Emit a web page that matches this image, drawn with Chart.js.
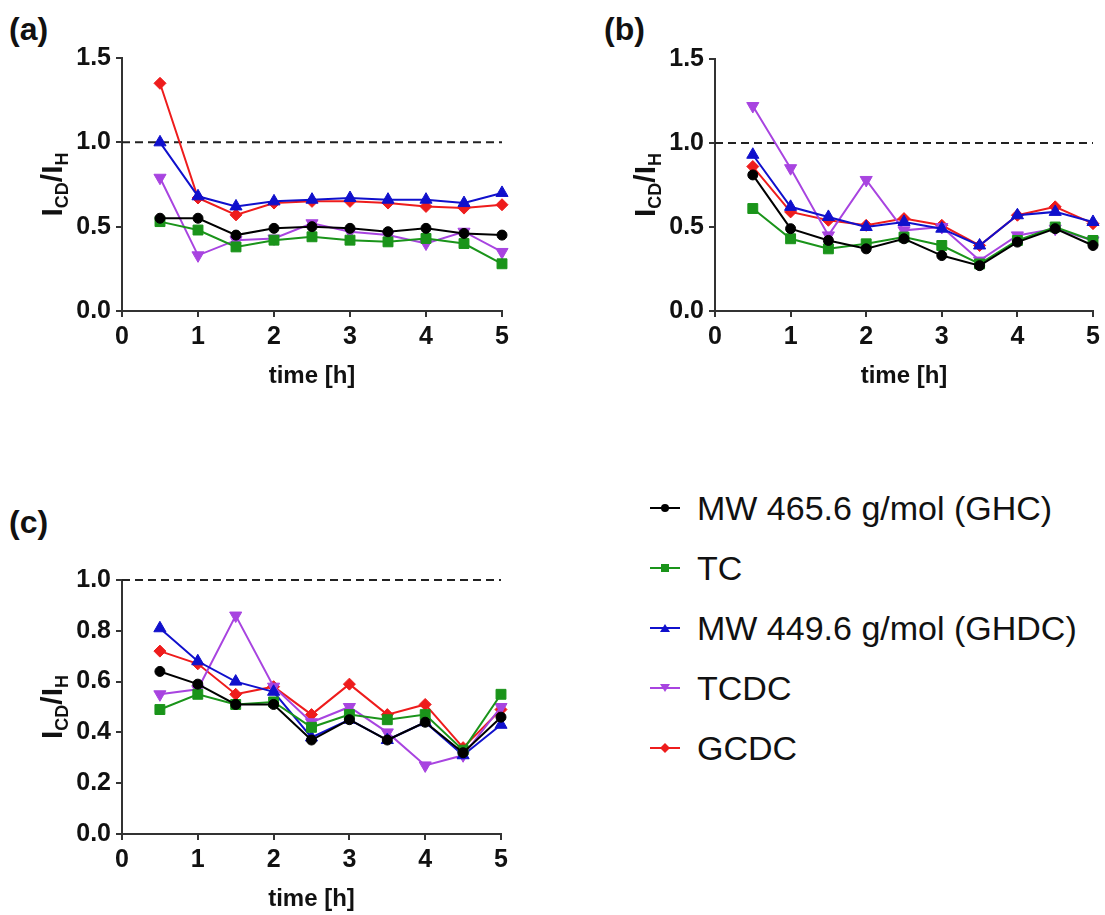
<!DOCTYPE html>
<html>
<head>
<meta charset="utf-8">
<script src="https://cdn.jsdelivr.net/npm/chart.js@4.4.1/dist/chart.umd.min.js"></script>
<style>
  body { margin: 0; background: #fff; font-family: Arial, "Liberation Sans", Helvetica, sans-serif; }
  #page { position: relative; width: 1105px; height: 915px; overflow: hidden; }
  canvas { position: absolute; }
  .tag { position: absolute; font-weight: bold; font-size: 32px; line-height: 36px; color: #111; }
  #legend { position: absolute; left: 650px; top: 478px; }
  .item { height: 60px; display: flex; align-items: center; font-size: 34px; color: #111; white-space: nowrap; }
  .item svg { margin-right: 17px; }
</style>
</head>
<body>
<div id="page">
  <div class="tag" style="left:9px; top:11px">(a)</div>
  <div class="tag" style="left:604px; top:11px">(b)</div>
  <div class="tag" style="left:9px; top:504px">(c)</div>
  <canvas id="chartA" width="540" height="391" style="left:0; top:0"></canvas>
  <canvas id="chartB" width="512" height="391" style="left:593px; top:0"></canvas>
  <canvas id="chartC" width="540" height="414" style="left:0; top:500px"></canvas>
  <div id="legend"></div>
</div>
<script>
const FONT = 'Arial, "Liberation Sans", Helvetica, sans-serif';

// sampling times [h]
const times = [0.5, 1, 1.5, 2, 2.5, 3, 3.5, 4, 4.5, 5];
const names = ['MW 465.6 g/mol (GHC)', 'TC', 'MW 449.6 g/mol (GHDC)', 'TCDC', 'GCDC'];

// panel (a)
const ghcA  = [0.55, 0.55, 0.45, 0.49, 0.50, 0.49, 0.47, 0.49, 0.46, 0.45];
const tcA   = [0.53, 0.48, 0.38, 0.42, 0.44, 0.42, 0.41, 0.43, 0.40, 0.28];
const ghdcA = [1.00, 0.68, 0.62, 0.65, 0.66, 0.67, 0.66, 0.66, 0.64, 0.70];
const tcdcA = [0.79, 0.33, 0.42, 0.43, 0.52, 0.47, 0.45, 0.40, 0.47, 0.35];
const gcdcA = [1.35, 0.67, 0.57, 0.64, 0.65, 0.65, 0.64, 0.62, 0.61, 0.63];

// panel (b)
const ghcB  = [0.81, 0.49, 0.42, 0.37, 0.43, 0.33, 0.27, 0.41, 0.49, 0.39];
const tcB   = [0.61, 0.43, 0.37, 0.40, 0.44, 0.39, 0.28, 0.42, 0.50, 0.42];
const ghdcB = [0.93, 0.62, 0.56, 0.50, 0.53, 0.49, 0.39, 0.57, 0.59, 0.53];
const tcdcB = [1.22, 0.85, 0.45, 0.78, 0.48, 0.50, 0.30, 0.45, 0.49, 0.42];
const gcdcB = [0.86, 0.59, 0.54, 0.51, 0.55, 0.51, 0.39, 0.57, 0.62, 0.52];

// panel (c)
const ghcC  = [0.64, 0.59, 0.51, 0.51, 0.37, 0.45, 0.37, 0.44, 0.32, 0.46];
const tcC   = [0.49, 0.55, 0.51, 0.52, 0.42, 0.47, 0.45, 0.47, 0.33, 0.55];
const ghdcC = [0.81, 0.68, 0.60, 0.56, 0.38, 0.45, 0.37, 0.44, 0.31, 0.43];
const tcdcC = [0.55, 0.57, 0.86, 0.58, 0.44, 0.50, 0.40, 0.27, 0.31, 0.50];
const gcdcC = [0.72, 0.67, 0.55, 0.58, 0.47, 0.59, 0.47, 0.51, 0.34, 0.49];

const xTicks = [0, 1, 2, 3, 4, 5];
const refLevel = 1.0;

// marker style per series
const styles = [
  { color: '#000000', point: 'circle',   radius: 5, rot: 0 },
  { color: '#1a941a', point: 'rect',     radius: 7, rot: 0 },
  { color: '#1010cc', point: 'triangle', radius: 7, rot: 0 },
  { color: '#a844e0', point: 'triangle', radius: 7, rot: 180 },
  { color: '#ee1c1c', point: 'rectRot',  radius: 6, rot: 0 }
];

// I_CD / I_H axis title with subscripts
const yTitlePlugin = {
  id: 'yTitle',
  afterDraw(chart) {
    const { ctx, chartArea } = chart;
    const cy = (chartArea.top + chartArea.bottom) / 2;
    const cx = chartArea.left - 69;
    const parts = [['I', 30, 0], ['CD', 18, 6], ['/I', 30, 0], ['H', 18, 6]];
    ctx.save();
    ctx.translate(cx + 9, cy);
    ctx.rotate(-Math.PI / 2);
    let total = 0;
    parts.forEach(p => { ctx.font = 'bold ' + p[1] + 'px ' + FONT; total += ctx.measureText(p[0]).width; });
    let x = -total / 2;
    ctx.fillStyle = '#111';
    ctx.textBaseline = 'alphabetic';
    parts.forEach(p => {
      ctx.font = 'bold ' + p[1] + 'px ' + FONT;
      ctx.fillText(p[0], x, p[2]);
      x += ctx.measureText(p[0]).width;
    });
    ctx.restore();
  }
};

const makePanel = (id, series, yMax, yStep, padTop, padRight) => {
  const datasets = series.map((vals, i) => ({
    label: names[i],
    data: times.map((t, j) => ({ x: t, y: vals[j] })),
    borderColor: styles[i].color,
    backgroundColor: styles[i].color,
    borderWidth: 2,
    pointStyle: styles[i].point,
    pointRadius: styles[i].radius,
    pointRotation: styles[i].rot,
    pointBorderWidth: 1,
    clip: false
  }));
  // dashed line at ratio 1
  datasets.push({
    label: 'ref',
    data: [{ x: xTicks[0], y: refLevel }, { x: xTicks[xTicks.length - 1], y: refLevel }],
    borderColor: '#222',
    borderWidth: 2,
    borderDash: [8, 5],
    pointRadius: 0,
    clip: false
  });

  new Chart(document.getElementById(id), {
    type: 'line',
    data: { datasets },
    plugins: [yTitlePlugin],
    options: {
      responsive: false,
      animation: false,
      events: [],
      layout: { padding: { top: padTop, right: padRight, bottom: 0, left: 0 } },
      plugins: { legend: { display: false }, tooltip: { enabled: false } },
      scales: {
        x: {
          type: 'linear',
          min: 0, max: 5,
          afterBuildTicks: s => { s.ticks = xTicks.map(v => ({ value: v })); },
          ticks: { color: '#111', font: { family: FONT, size: 25, weight: 'bold' }, padding: 5 },
          grid: { drawOnChartArea: false, tickLength: 6, color: '#333', lineWidth: 2 },
          border: { color: '#333', width: 2 },
          title: { display: true, text: 'time [h]', color: '#111', font: { family: FONT, size: 24, weight: 'bold' }, padding: 0 },
          afterFit: s => { s.height = 80; }
        },
        y: {
          min: 0, max: yMax,
          ticks: { stepSize: yStep, callback: v => v.toFixed(1), color: '#111', font: { family: FONT, size: 25, weight: 'bold' }, padding: 5 },
          grid: { drawOnChartArea: false, tickLength: 6, color: '#333', lineWidth: 2 },
          border: { color: '#333', width: 2 },
          afterFit: s => { s.width = 122; }
        }
      }
    }
  });
};

makePanel('chartA', [ghcA, tcA, ghdcA, tcdcA, gcdcA], 1.5, 0.5, 58, 38);
makePanel('chartB', [ghcB, tcB, ghdcB, tcdcB, gcdcB], 1.5, 0.5, 59, 12);
makePanel('chartC', [ghcC, tcC, ghdcC, tcdcC, gcdcC], 1.0, 0.2, 80, 39);

// legend
const markerSvg = s => {
  const c = s.color;
  let m = '';
  if (s.point === 'circle') m = `<circle cx="15" cy="8" r="4" fill="${c}"/>`;
  else if (s.point === 'rect') m = `<rect x="11" y="4" width="8" height="8" fill="${c}"/>`;
  else if (s.point === 'rectRot') m = `<polygon points="15,3 20,8 15,13 10,8" fill="${c}"/>`;
  else if (s.rot === 180) m = `<polygon points="10,4 20,4 15,12" fill="${c}"/>`;
  else m = `<polygon points="10,12 20,12 15,4" fill="${c}"/>`;
  return `<svg width="30" height="16"><line x1="0" y1="8" x2="30" y2="8" stroke="${c}" stroke-width="2"/>${m}</svg>`;
};
const legend = document.getElementById('legend');
names.forEach((n, i) => {
  const d = document.createElement('div');
  d.className = 'item';
  d.innerHTML = markerSvg(styles[i]) + '<span>' + n + '</span>';
  legend.appendChild(d);
});
</script>
</body>
</html>
